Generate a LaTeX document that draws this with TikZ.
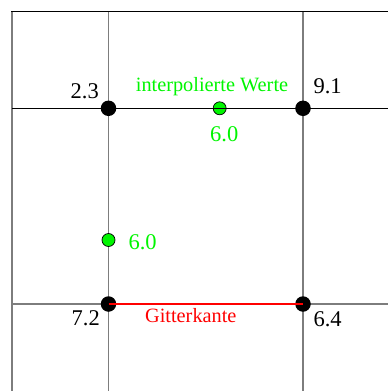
\documentclass[tikz,border=0pt]{standalone}
\usepackage{fontspec}
\setmainfont{Liberation Serif}
\definecolor{brightgreen}{RGB}{0,245,0}
\definecolor{gridgray}{RGB}{125,125,125}
\begin{document}
\begin{tikzpicture}[x=1pt,y=-1pt,
  gridline/.style={draw=gridgray,line width=1.1pt},
  blackline/.style={draw=black,line width=1pt},
  edgeline/.style={draw=red,line width=1.3pt},
  knot/.style={circle,fill=black,draw=none,minimum size=15.5pt,inner sep=0pt},
  ipoint/.style={circle,fill=brightgreen,draw=black,line width=0.7pt,minimum size=13pt,inner sep=0pt},
  val/.style={inner sep=0pt,font=\fontsize{22.5}{27}\selectfont},
  ival/.style={val,text=brightgreen},
  caption/.style={inner sep=0pt,font=\fontsize{20.3}{24}\selectfont}
]
\useasboundingbox (0,0) rectangle (388,391);
% frame coordinates
\coordinate (tl) at (11,11);
\coordinate (tr) at (388,11);
\coordinate (lb) at (12,391);
\coordinate (lt) at (12,11);
\coordinate (v1t) at (108.5,11);
\coordinate (v1b) at (108.5,391);
\coordinate (v2t) at (303,11);
\coordinate (v2b) at (303,391);
\coordinate (h1l) at (12,108.3);
\coordinate (h1r) at (388,108.3);
\coordinate (h2l) at (12,304);
\coordinate (h2r) at (388,304);
% gray grid lines
\draw[gridline] (lt) -- (lb);
\draw[gridline] (v1t) -- (v1b);
\draw[gridline] (v2t) -- (v2b);
\draw[gridline] (h2l) -- (h2r);
% dots
\node[knot] (a) at (108.5,108.3) {};
\node[knot] (b) at (303,108.3) {};
\node[knot] (c) at (108.5,304) {};
\node[knot] (d) at (303,304) {};
\node[ipoint] (p) at (219.7,108.3) {};
\node[ipoint] (q) at (108.5,240) {};
% black lines
\draw[blackline] (tl) -- (tr);
\draw[blackline] (h1l) -- (h1r);
% red grid edge
\draw[edgeline] (c.center) -- (d.center);
% labels
\node[val,anchor=base east] (la) at (99,98.3) {2.3};
\node[val,anchor=base west] (lb9) at (313.3,93.3) {9.1};
\node[val,anchor=base east] (lc) at (100,325) {7.2};
\node[val,anchor=base west] (ld) at (313.3,326) {6.4};
\node[ival,anchor=base west] (lp) at (210,141.7) {6.0};
\node[ival,anchor=base west] (lq) at (128.3,249.3) {6.0};
\node[caption,text=brightgreen,anchor=base] (cap1) at (212,91.7) {interpolierte Werte};
\node[caption,text=red,anchor=base] (cap2) at (190.8,322.3) {Gitterkante};
\end{tikzpicture}
\end{document}
